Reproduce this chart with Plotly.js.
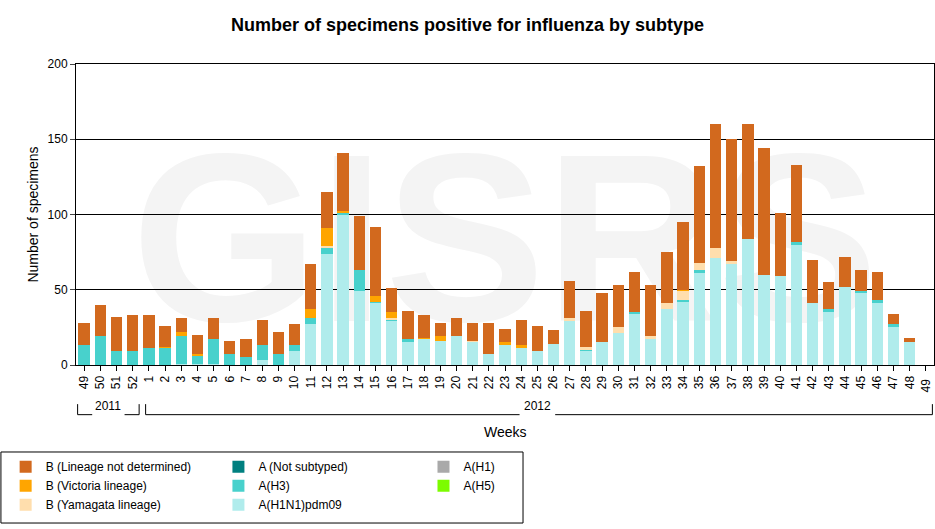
<!DOCTYPE html>
<html><head><meta charset="utf-8">
<script src="https://cdn.plot.ly/plotly-3.0.1.min.js"></script>
<style>body{margin:0;background:#fff}</style>
</head><body>
<div id="chart" style="width:935px;height:529px"></div>
<script>
const weeks = ['49','50','51','52','1','2','3','4','5','6','7','8','9','10','11','12','13','14','15','16','17','18','19','20','21','22','23','24','25','26','27','28','29','30','31','32','33','34','35','36','37','38','39','40','41','42','43','44','45','46','47','48','49 '];
const h1n1 = [0,0,0,0,0,0,1,1,1,0,0,3,0,9,27,74,100,49,41,29,15,17,16,19,15,7,13,11,9,14,29,9,15,21,34,17,37,42,61,71,67,84,60,59,80,41,35,52,48,41,25,15,0];
const h3 = [13,19,9,9,11,11,18,5,16,7,5,10,7,4,4,4,1,14,1,1,2,0,0,0,0,0,0,0,0,0,0,1,0,0,1,0,0,1,2,0,0,0,0,0,2,0,2,0,1,2,2,0,0];
const yam = [0,0,0,0,0,0,0,0,0,0,0,0,0,0,0,1,0,0,0,1,0,0,0,0,1,0,0,0,0,0,2,2,0,4,0,2,4,6,5,7,2,0,0,0,0,0,0,0,0,0,0,0,0];
const vic = [0,0,0,0,0,1,3,1,0,0,0,0,0,0,6,12,1,0,4,4,0,1,3,0,0,0,2,2,0,0,0,0,0,0,0,0,0,1,0,0,0,0,0,0,0,0,0,0,0,0,0,0,0];
const totals = [28,40,32,33,33,26,31,20,31,16,17,30,22,27,67,115,141,99,92,51,36,33,28,31,28,28,24,30,26,23,56,36,48,53,62,53,75,95,132,160,150,160,144,101,133,70,55,72,63,62,34,18,0];
const bnd = totals.map((t, i) => t - h1n1[i] - h3[i] - yam[i] - vic[i]);
const zeros = weeks.map(() => 0);

const series = [
  {name: 'A(H1N1)pdm09', y: h1n1, color: '#b0ecec', rank: 3, leg: 'legend2'},
  {name: 'A(H3)', y: h3, color: '#48d1cc', rank: 2, leg: 'legend2'},
  {name: 'A (Not subtyped)', y: zeros, color: '#008080', rank: 1, leg: 'legend2'},
  {name: 'A(H1)', y: zeros, color: '#a9a9a9', rank: 1, leg: 'legend3'},
  {name: 'A(H5)', y: zeros, color: '#7cfc00', rank: 2, leg: 'legend3'},
  {name: 'B (Yamagata lineage)', y: yam, color: '#ffdead', rank: 3, leg: 'legend'},
  {name: 'B (Victoria lineage)', y: vic, color: '#ffa500', rank: 2, leg: 'legend'},
  {name: 'B (Lineage not determined)', y: bnd, color: '#d2691e', rank: 1, leg: 'legend'}
];

const traces = series.map(s => ({
  type: 'bar', x: weeks, y: s.y, name: s.name, legendrank: s.rank, legend: s.leg,
  marker: {color: s.color}, hoverinfo: 'name+y'
}));

const legBase = {orientation: 'v', xanchor: 'left', y: -0.29, yanchor: 'top', traceorder: 'normal',
                 bgcolor: 'rgba(0,0,0,0)', borderwidth: 0, font: {size: 12}, tracegroupgap: 0};
const line = {color: '#000', width: 1};

const layout = {
  width: 935, height: 529,
  margin: {l: 76, r: 1, t: 64, b: 164},
  font: {family: 'Arial, Liberation Sans, sans-serif', size: 12, color: '#000'},
  title: {text: '<b>Number of specimens positive for influenza by subtype</b>', x: 0.5, y: 0.965, xanchor: 'center', font: {size: 18}},
  barmode: 'stack', bargap: 0.3,
  plot_bgcolor: '#fff', paper_bgcolor: '#fff',
  xaxis: {type: 'category', tickangle: -90, showline: true, mirror: true, linecolor: '#000',
          ticks: 'outside', ticklen: 5, tickcolor: '#000', fixedrange: true},
  yaxis: {range: [0, 200], dtick: 50, showgrid: true, gridcolor: '#000', gridwidth: 1,
          showline: true, mirror: true, linecolor: '#000', ticks: 'outside', ticklen: 5,
          title: {text: 'Number of specimens', font: {size: 14}}},
  legend: Object.assign({}, legBase, {x: -0.082}),
  legend2: Object.assign({}, legBase, {x: 0.166}),
  legend3: Object.assign({}, legBase, {x: 0.405}),
  shapes: [
    {type: 'rect', xref: 'paper', yref: 'paper', x0: 0.02, x1: 0.98, y0: 0.1, y1: 0.9, layer: 'below',
     line: {width: 0}, fillcolor: 'rgba(0,0,0,0)',
     label: {text: '<b>GISRS</b>', font: {size: 240, color: '#f4f4f4', family: 'Arial'}, textposition: 'middle center'}},
    {type: 'rect', xref: 'paper', yref: 'paper', x0: -0.0875, x1: 0.521, y0: -0.289, y1: -0.525, line: line},
    {type: 'line', xref: 'x', yref: 'paper', x0: -0.4, x1: -0.4, y0: -0.13, y1: -0.165, line: line},
    {type: 'line', xref: 'x', yref: 'paper', x0: -0.4, x1: 0.5, y0: -0.165, y1: -0.165, line: line},
    {type: 'line', xref: 'x', yref: 'paper', x0: 2.5, x1: 3.4, y0: -0.165, y1: -0.165, line: line},
    {type: 'line', xref: 'x', yref: 'paper', x0: 3.4, x1: 3.4, y0: -0.13, y1: -0.165, line: line},
    {type: 'line', xref: 'x', yref: 'paper', x0: 3.8, x1: 3.8, y0: -0.13, y1: -0.165, line: line},
    {type: 'line', xref: 'x', yref: 'paper', x0: 3.8, x1: 26.9, y0: -0.165, y1: -0.165, line: line},
    {type: 'line', xref: 'x', yref: 'paper', x0: 29.1, x1: 52.4, y0: -0.165, y1: -0.165, line: line},
    {type: 'line', xref: 'x', yref: 'paper', x0: 52.4, x1: 52.4, y0: -0.13, y1: -0.165, line: line}
  ],
  annotations: [
    {text: '2011', xref: 'x', yref: 'paper', x: 1.5, y: -0.165, showarrow: false, font: {size: 12}},
    {text: '2012', xref: 'x', yref: 'paper', x: 28, y: -0.165, showarrow: false, font: {size: 12}},
    {text: 'Weeks', xref: 'paper', yref: 'paper', x: 0.5, y: -0.19, yanchor: 'top', showarrow: false, font: {size: 14}}
  ]
};

Plotly.newPlot('chart', traces, layout, {displayModeBar: false, staticPlot: true});
</script>
</body></html>
